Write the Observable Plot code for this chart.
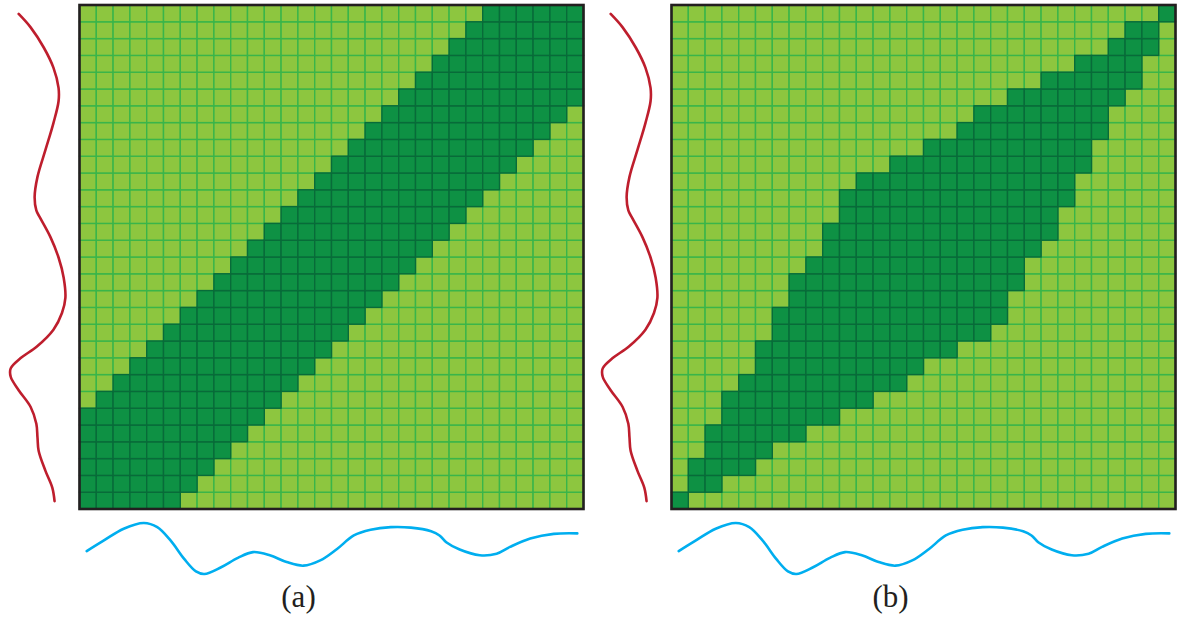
<!DOCTYPE html>
<html>
<head>
<meta charset="utf-8">
<script src="https://cdn.jsdelivr.net/npm/d3@7"></script>
<script src="https://cdn.jsdelivr.net/npm/@observablehq/plot@0.6"></script>
<style>
  html, body { margin: 0; padding: 0; background: #ffffff; overflow: hidden; }
  #chart { position: relative; width: 1180px; height: 625px; }
  #chart svg { position: absolute; top: 0; }
</style>
</head>
<body>
<div id="chart"></div>
<script>
// Warping-window masks on a 30 x 30 alignment grid.
// Rows are counted from the bottom; each row lists the first and last column inside the window.
const gridSize = 30;

// (a) Sakoe-Chiba band
const bandALo = [0,0,0,0,0,0,1,2,3,4,5,6,7,8,9,10,11,12,13,14,15,16,17,18,19,20,21,22,23,24];
const bandAHi = [5,6,7,8,9,10,11,12,13,14,15,16,17,18,19,20,21,22,23,24,25,26,27,28,29,29,29,29,29,29];

// (b) Itakura parallelogram
const bandBLo = [0,1,1,2,2,3,3,4,5,5,6,6,7,7,8,9,9,10,10,11,13,15,17,18,20,22,24,26,27,29];
const bandBHi = [0,2,4,5,7,9,11,13,14,16,18,19,19,20,20,21,22,22,23,23,24,24,25,25,26,27,27,28,28,29];

const panelLabels = ["(a)", "(b)"];

// Series along the vertical axis (time index, normalised amplitude)
const redTime  = [0.0,0.8,1.8,3.0,3.8,4.6,5.6,6.6,7.4,7.9,8.5,9.2,10.2,11.2,12.1,13.3,14.5,15.7,16.9,17.3,18.1,19.3,20.9,22.5,23.8,24.6,25.8,27.0,28.2,29.0];
const redValue = [0.81,0.77,0.65,0.53,0.51,0.49,0.39,0.18,0.04,0.04,0.21,0.50,0.79,0.94,1.00,0.97,0.88,0.74,0.55,0.49,0.46,0.51,0.65,0.79,0.88,0.88,0.79,0.62,0.39,0.18];

// Series along the horizontal axis (time index, normalised amplitude)
const blueTime  = [-0.1,0.9,2.1,3.3,4.1,4.9,5.7,6.4,6.9,7.9,8.9,9.8,10.8,11.8,12.8,13.8,14.8,15.8,16.8,18.0,19.2,20.4,20.9,21.3,22.1,23.3,24.3,25.1,26.3,27.7,29.1];
const blueValue = [0.45,0.65,0.88,0.99,0.91,0.65,0.30,0.06,0.01,0.14,0.32,0.43,0.37,0.24,0.17,0.27,0.49,0.75,0.86,0.91,0.90,0.83,0.75,0.62,0.48,0.37,0.40,0.53,0.69,0.78,0.79];

// Colours
const lightFill = "#8dc63f", lightLine = "#39b54a";
const darkFill  = "#0e9144", darkLine  = "#086b39";
const frameColor = "#231f20";
const redColor = "#be1e2d", blueColor = "#00aeef";

// Layout of one panel (pixels)
const panelWidth = 588, panelHeight = 625, panelGap = 4;
const cellPx = 16.8, gridLeftPx = 79.5, gridBottomPx = 509;

const redSeries = redTime.map((t, i) => ({t, value: redValue[i]}));
const blueSeries = blueTime.map((t, i) => ({t, value: blueValue[i]}));

// strips beside the grid where the two series are drawn (grid units)
const redStrip = {start: -4.26, span: 3.39};
const blueStrip = {start: -3.87, span: 3.10};

function cellsFor(lo, hi) {
  const cells = [];
  for (let r = 0; r < gridSize; r++) {
    for (let c = 0; c < gridSize; c++) {
      cells.push({row: r, col: c, inside: c >= lo[r] && c <= hi[r]});
    }
  }
  return cells;
}

function panel(lo, hi, label) {
  const cells = cellsFor(lo, hi);
  const outside = cells.filter(d => !d.inside);
  const inside = cells.filter(d => d.inside);
  return Plot.plot({
    width: panelWidth,
    height: panelHeight,
    margin: 0,
    x: {domain: [-gridLeftPx / cellPx, (panelWidth - gridLeftPx) / cellPx], axis: null},
    y: {domain: [(gridBottomPx - panelHeight) / cellPx, gridBottomPx / cellPx], axis: null},
    style: {background: "transparent"},
    marks: [
      Plot.rect(outside, {x1: "col", x2: d => d.col + 1, y1: "row", y2: d => d.row + 1,
        fill: lightFill, stroke: lightLine, strokeWidth: 1.4}),
      Plot.rect(inside, {x1: "col", x2: d => d.col + 1, y1: "row", y2: d => d.row + 1,
        fill: darkFill, stroke: darkLine, strokeWidth: 1.4}),
      Plot.rect([gridSize], {x1: 0, x2: d => d, y1: 0, y2: d => d,
        fill: "none", stroke: frameColor, strokeWidth: 2.6}),
      Plot.line(redSeries, {
        x: d => redStrip.start + d.value * redStrip.span,
        y: d => d.t + 0.5,
        curve: "catmull-rom", stroke: redColor, strokeWidth: 2.6
      }),
      Plot.line(blueSeries, {
        x: d => d.t + 0.5,
        y: d => blueStrip.start + d.value * blueStrip.span,
        curve: "catmull-rom", stroke: blueColor, strokeWidth: 2.6
      }),
      Plot.text([label], {
        text: d => d, frameAnchor: "bottom", dx: 4, dy: -19,
        fontSize: 31, fontFamily: "Liberation Serif, DejaVu Serif, serif", fill: "#231f20"
      })
    ]
  });
}

const host = document.getElementById("chart");
const svgA = panel(bandALo, bandAHi, panelLabels[0]);
svgA.style.left = "0px";
host.appendChild(svgA);
const svgB = panel(bandBLo, bandBHi, panelLabels[1]);
svgB.style.left = (panelWidth + panelGap) + "px";
host.appendChild(svgB);
</script>
</body>
</html>
